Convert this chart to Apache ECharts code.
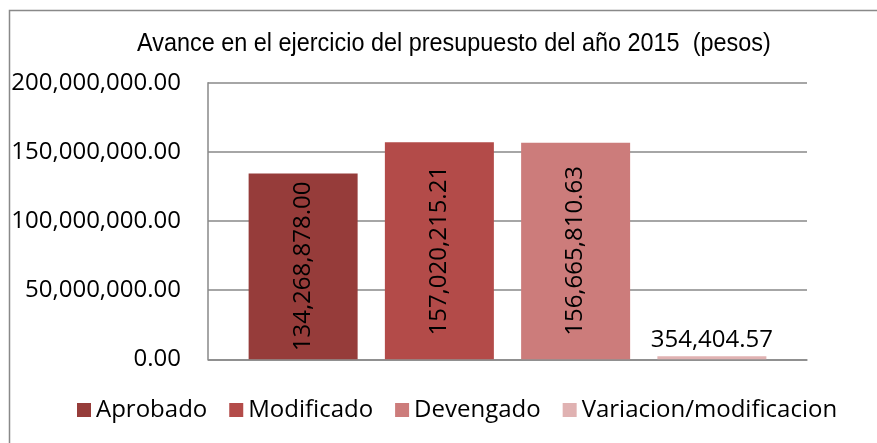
<!DOCTYPE html>
<html>
<head>
<meta charset="utf-8">
<script src="https://cdn.jsdelivr.net/npm/echarts@6/dist/echarts.min.js"></script>
<style>
html,body{margin:0;padding:0;background:#fff;}
#c{width:877px;height:443px;}
</style>
</head>
<body>
<div id="c"></div>
<script>
var titleText = 'Avance en el ejercicio del presupuesto del año 2015  (pesos)';
var categories = [''];
var seriesNames = ['Aprobado', 'Modificado', 'Devengado', 'Variacion/modificacion'];
var seriesValues = [134268878.00, 157020215.21, 156665810.63, 354404.57];
var seriesColors = ['#963c3a', '#b34b49', '#cc7c7b', '#e0b2b2'];
var yTicks = [0, 50000000, 100000000, 150000000, 200000000];

function fmt(v) {
  return Number(v).toLocaleString('en-US', {minimumFractionDigits: 2, maximumFractionDigits: 2});
}

var labelFont = "'Open Sans', sans-serif";
var chart = echarts.init(document.getElementById('c'), null, {renderer: 'canvas'});

var series = seriesNames.map(function (name, i) {
  var small = i === 3;
  return {
    name: name,
    type: 'bar',
    data: [seriesValues[i]],
    barWidth: 109,
    barGap: '25%',
    barMinHeight: small ? 3 : 0,
    itemStyle: {color: seriesColors[i]},
    label: {
      show: true,
      position: small ? 'top' : 'inside',
      rotate: small ? 0 : 90,
      distance: small ? 4 : 5,
      color: '#000',
      fontFamily: labelFont,
      fontSize: 24,
      formatter: function (p) { return fmt(p.value); }
    }
  };
});

chart.setOption({
  animation: false,
  backgroundColor: '#fff',
  legend: {
    data: seriesNames,
    left: 77,
    top: 397,
    padding: 0,
    icon: 'rect',
    itemWidth: 14,
    itemHeight: 14,
    itemGap: 22,
    textStyle: {fontFamily: labelFont, fontSize: 24, color: '#000', lineHeight: 26}
  },
  grid: {left: 208, right: 70, top: 82.7, bottom: 83.7, containLabel: false},
  xAxis: {
    type: 'category',
    data: categories,
    axisLine: {show: true, lineStyle: {color: '#898989', width: 1.5}},
    axisTick: {show: false},
    axisLabel: {show: false}
  },
  yAxis: {
    type: 'value',
    min: yTicks[0],
    max: yTicks[yTicks.length - 1],
    interval: yTicks[1] - yTicks[0],
    axisLine: {show: true, lineStyle: {color: '#898989', width: 1.5}},
    axisTick: {show: false},
    splitLine: {show: true, lineStyle: {color: '#898989', width: 1.5}},
    axisLabel: {
      margin: 27,
      color: '#000',
      fontFamily: labelFont,
      fontSize: 24,
      formatter: function (v) { return fmt(v); }
    }
  },
  graphic: [{
    type: 'rect',
    shape: {x: 9.5, y: 10.5, width: 900, height: 500},
    style: {fill: null, stroke: '#898989', lineWidth: 1.5},
    silent: true,
    z: 100
  }, {
    type: 'text',
    x: 137,
    y: 32,
    scaleX: 0.937,
    style: {
      text: titleText,
      font: "normal 25px 'Liberation Sans', Arial, sans-serif",
      fill: '#000',
      textVerticalAlign: 'top',
      verticalAlign: 'top'
    },
    silent: true,
    z: 100
  }],
  series: series
});
</script>
</body>
</html>
